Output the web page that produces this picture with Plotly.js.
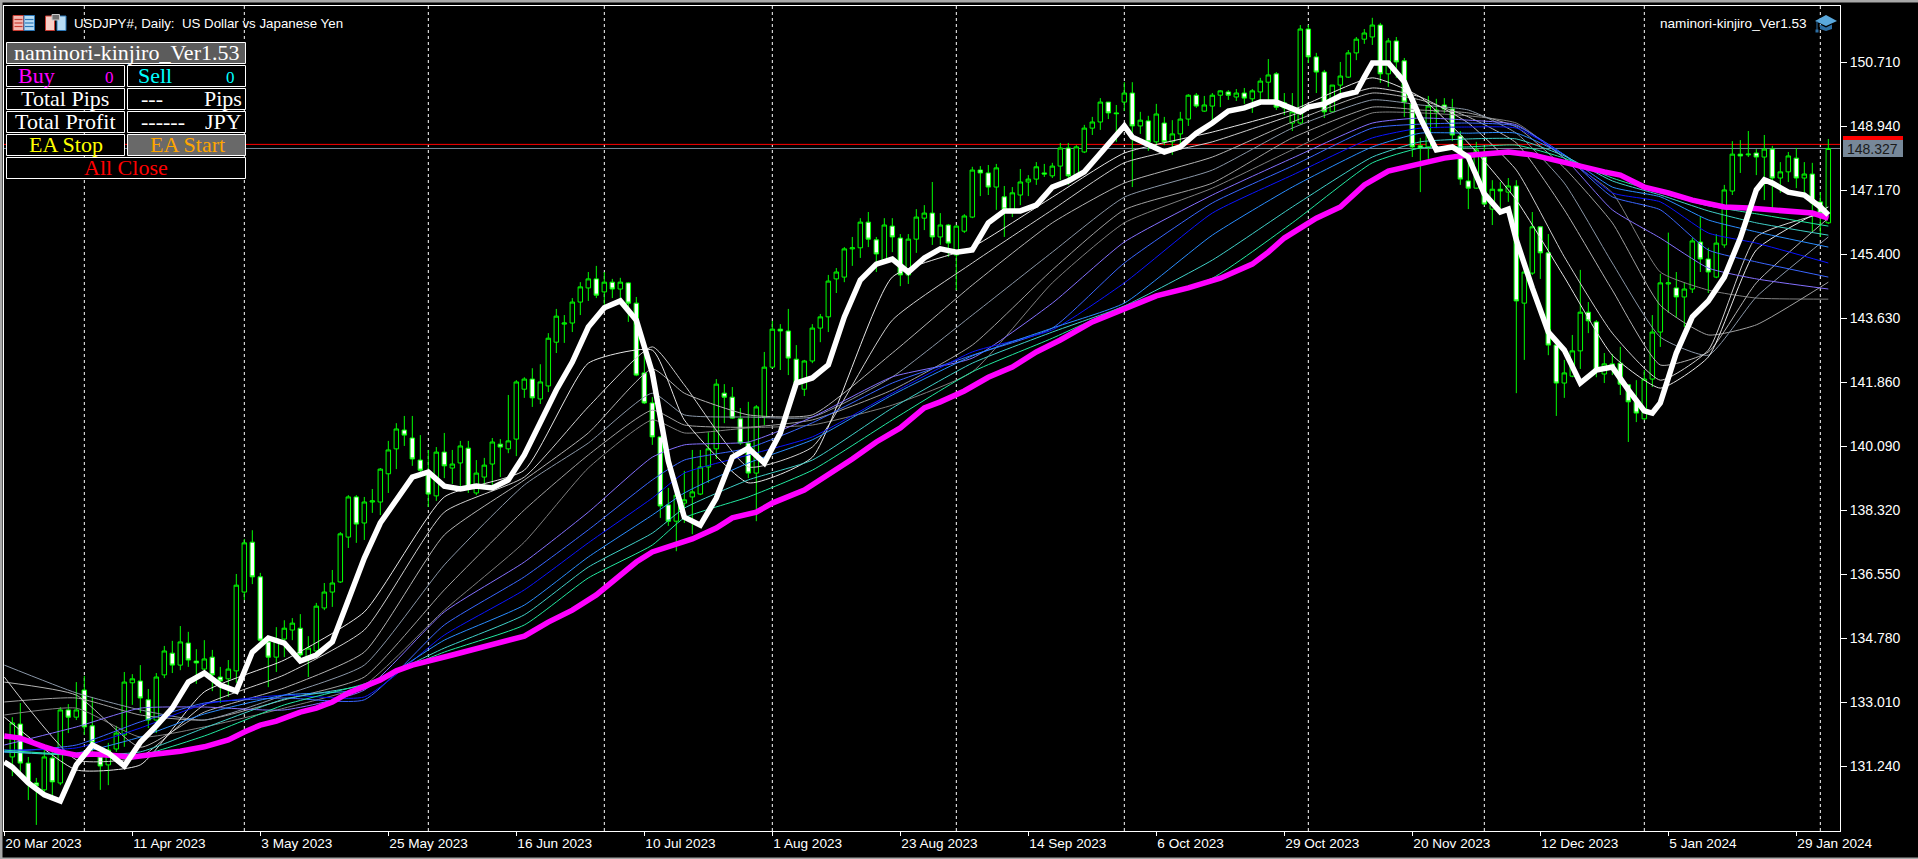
<!DOCTYPE html>
<html><head><meta charset="utf-8">
<script src="https://cdn.plot.ly/plotly-3.0.1.min.js"></script>
<style>html,body{margin:0;padding:0;background:#000;overflow:hidden}#c{width:1918px;height:859px}</style>
</head><body><div id="c"></div>
<script>
// Candles (daily USDJPY#), bar 0..227
const opens=[131.50,132.41,131.33,130.78,130.59,131.47,130.78,132.80,132.60,133.35,
132.36,131.50,131.28,131.72,132.11,133.55,133.60,133.08,132.52,133.77,
134.37,134.04,134.65,134.15,133.93,134.26,133.71,133.66,133.88,136.06,
137.44,136.48,134.68,134.26,134.76,135.01,135.06,134.26,134.43,135.62,
136.06,136.34,137.58,138.69,137.97,138.55,138.55,139.33,140.02,140.54,
140.32,139.71,139.38,138.72,139.93,139.49,139.63,140.04,138.80,139.24,
139.60,140.15,140.02,140.29,141.67,141.95,141.40,141.76,142.97,143.47,
143.50,144.08,144.47,144.72,144.36,144.63,144.44,144.61,144.05,142.12,
141.29,140.35,138.47,138.02,138.52,138.69,138.77,139.52,140.02,141.56,
141.45,140.85,140.18,139.35,140.90,142.28,143.33,143.28,142.50,141.67,
142.45,143.36,143.67,144.72,144.77,145.55,145.58,146.29,145.80,145.24,
146.18,145.85,144.83,145.82,146.40,146.54,145.88,146.21,145.38,146.04,
146.43,147.73,147.65,147.26,146.99,146.63,147.04,147.40,147.48,147.65,
147.57,147.84,148.34,147.57,148.23,148.89,149.06,149.61,149.31,149.61,
149.86,148.95,149.09,148.51,149.03,148.51,148.73,149.14,149.80,149.36,
149.50,149.80,149.89,149.75,149.86,149.70,149.89,150.16,150.39,149.45,
149.03,149.03,151.63,150.86,150.44,149.34,150.08,150.30,150.97,151.35,
151.41,151.74,150.39,151.30,150.75,149.56,148.40,148.37,149.34,149.53,
149.42,148.67,147.43,147.23,148.09,146.65,147.20,147.12,147.29,144.05,
144.88,146.16,145.44,142.89,141.84,142.03,142.73,143.80,143.53,142.09,
142.28,142.39,141.79,141.32,140.85,141.95,143.25,144.58,144.47,144.22,
144.44,145.74,145.27,144.77,145.66,147.15,148.17,148.15,148.20,148.09,
148.31,147.51,147.68,148.06,147.51,147.62,146.85,146.27];
const highs=[132.60,132.99,131.50,130.92,131.69,131.64,132.88,132.96,133.57,133.74,
133.16,131.55,131.89,132.36,133.85,133.79,134.04,133.38,133.82,134.57,
134.71,135.12,134.96,134.48,134.73,134.46,133.99,134.18,136.56,137.53,
137.77,136.59,134.73,135.09,135.28,135.34,135.45,134.84,135.76,136.31,
136.67,137.72,138.74,138.74,138.69,138.91,139.49,140.24,140.73,140.93,
140.93,140.40,139.99,140.07,140.46,139.99,140.24,140.24,139.71,139.77,
140.32,140.29,141.51,141.92,142.00,142.25,142.36,143.22,143.89,143.72,
144.19,144.63,144.91,145.08,144.91,144.72,144.75,144.63,144.22,142.75,
141.45,140.37,138.94,138.94,139.41,139.99,139.99,140.48,141.95,141.81,
141.73,141.15,141.32,141.23,142.70,143.56,143.47,143.89,142.89,142.48,
143.47,143.75,144.83,145.02,145.60,145.88,146.40,146.57,145.88,146.40,
146.40,145.96,145.96,146.65,146.76,147.40,146.54,146.24,146.21,146.51,
147.82,147.84,147.87,147.90,147.29,147.26,147.76,147.59,147.95,147.90,
147.93,148.48,148.48,148.42,148.98,149.20,149.72,149.61,149.53,150.16,
150.16,149.34,149.23,149.56,149.20,149.11,149.34,149.83,149.86,149.78,
149.86,149.94,149.94,149.97,150.00,149.97,150.28,150.80,150.44,149.86,
149.86,151.74,151.74,150.97,150.50,150.08,150.72,151.05,151.41,151.63,
151.94,151.80,151.38,151.41,150.83,149.58,148.62,149.78,149.70,149.72,
149.70,148.81,147.93,148.51,148.37,147.45,147.40,147.51,147.45,145.22,
146.57,146.16,145.96,142.92,142.48,143.17,144.97,144.08,143.58,142.67,
142.64,142.84,141.79,141.92,142.20,143.72,144.86,146.00,144.91,144.61,
145.85,146.43,145.58,145.96,147.32,148.53,148.56,148.81,148.31,148.70,
148.40,147.95,148.23,148.34,147.95,147.93,147.12,148.59];
const lows=[130.97,130.95,130.31,129.62,130.45,130.39,130.72,132.16,132.52,132.11,
131.50,130.59,130.72,131.64,131.78,132.94,132.72,132.30,132.16,133.68,
133.82,133.90,133.99,133.52,133.82,133.32,132.99,133.16,133.55,135.84,
136.28,134.65,133.43,133.85,134.26,134.73,134.24,133.71,134.40,135.56,
135.65,136.31,137.28,137.42,137.50,138.25,138.19,138.80,139.46,140.10,
139.55,139.24,138.41,138.58,139.21,139.05,138.96,138.80,138.74,138.99,
139.02,139.24,139.90,139.82,141.43,141.18,141.26,141.59,142.67,142.95,
143.25,143.72,144.11,144.19,144.00,144.19,144.16,143.53,142.03,141.26,
140.13,138.11,137.89,137.19,137.97,137.66,138.74,139.08,139.74,140.73,
140.85,140.13,139.21,138.02,140.68,142.25,142.20,142.06,141.79,141.48,
142.39,142.97,143.25,144.33,144.63,145.08,145.30,145.60,144.91,145.19,
145.46,144.52,144.58,145.44,146.07,145.66,145.66,145.33,144.41,145.99,
146.40,147.01,147.04,146.63,145.88,146.43,146.76,147.01,147.32,147.54,
147.51,147.45,147.32,147.54,148.20,148.70,148.84,149.14,148.51,149.36,
147.26,148.73,148.26,148.37,148.42,148.15,148.42,148.95,149.45,149.34,
148.98,149.47,149.67,149.64,149.56,149.31,149.67,149.67,149.39,149.25,
148.81,149.00,150.69,149.86,149.17,149.31,149.75,150.28,150.77,151.22,
151.19,150.14,150.03,150.28,149.20,148.09,147.12,148.04,148.89,149.31,
148.53,147.32,146.65,147.21,146.76,146.21,146.68,146.85,141.56,142.48,
144.83,144.72,142.61,140.93,141.43,142.00,142.23,143.22,142.00,141.84,
142.06,141.51,140.21,140.76,140.82,141.73,142.84,143.78,143.64,143.39,
144.33,144.91,144.33,144.74,145.58,147.04,147.65,148.09,147.59,146.90,
146.68,147.10,147.40,147.23,146.98,146.02,145.88,146.24];
const closes=[132.44,131.33,130.78,130.70,131.50,130.81,132.80,132.60,132.80,132.33,
131.89,131.25,131.69,132.16,133.57,133.66,133.13,132.52,133.71,134.43,
134.04,134.68,134.18,134.10,134.21,133.77,133.60,133.93,136.25,137.42,
136.48,134.73,134.26,134.76,135.06,135.20,134.32,134.51,135.67,136.06,
136.31,137.67,138.69,137.94,138.55,138.58,139.46,139.99,140.57,140.40,
139.74,139.43,138.77,139.93,139.55,139.60,140.10,138.96,139.35,139.57,
140.21,140.07,140.24,141.87,141.95,141.43,141.87,143.08,143.69,143.50,
144.08,144.50,144.72,144.27,144.63,144.44,144.63,144.05,142.06,141.29,
140.35,138.44,138.02,138.74,138.61,138.83,139.52,140.02,141.81,141.45,
140.87,140.18,139.35,141.18,142.28,143.33,143.28,142.53,141.84,142.45,
143.36,143.67,144.66,144.91,145.55,145.58,146.29,145.82,145.41,146.21,
145.88,144.83,145.82,146.43,146.54,145.88,146.21,145.71,146.18,146.46,
147.73,147.65,147.26,147.79,146.65,147.10,147.40,147.48,147.82,147.62,
147.84,148.34,147.57,148.37,148.89,149.06,149.61,149.31,149.29,149.86,
148.95,149.11,148.51,149.28,148.51,148.73,149.14,149.80,149.50,149.53,
149.80,149.92,149.80,149.86,149.72,149.92,150.19,150.36,149.47,149.59,
149.34,151.63,150.86,150.44,149.34,150.08,150.33,150.97,151.35,151.52,
151.74,150.39,151.30,150.72,149.61,148.37,148.34,149.50,149.39,149.42,
148.70,147.48,147.23,148.29,146.79,147.20,147.15,147.29,144.11,144.91,
146.16,145.44,142.89,141.84,142.12,142.73,143.80,143.56,142.20,142.37,
142.37,141.81,141.32,141.01,141.95,143.25,144.61,144.61,144.22,144.44,
145.77,145.27,144.91,145.71,147.18,148.17,148.12,148.17,148.09,148.31,
147.51,147.68,148.12,147.51,147.62,146.82,146.54,148.327];

// Moving averages
const fastBars=[-1,0,2,4,6,8,10,12,14,16,18,20,22,24,26,28,30,32,34,36,38,40,42,44,46,48,50,52,54,56,58,60,62,64,66,68,70,72,74,76,78,80,82,84,86,88,90,92,94,96,98,100,102,104,106,108,110,112,114,116,118,120,122,124,126,128,130,132,134,136,138,139,140,142,144,146,148,150,152,154,156,158,160,161,162,164,166,168,169,170,172,174,176,178,180,182,184,186,187,188,190,192,194,196,198,200,202,204,205,206,208,210,212,214,216,218,219,220,222,224,226,227];
const fastMA=[131.36,131.22,130.78,130.45,130.28,131.28,131.83,131.61,131.25,131.91,132.36,132.85,133.57,133.82,133.49,133.32,134.40,134.79,134.65,134.15,134.32,134.68,135.84,137.00,137.97,138.61,139.24,139.38,138.99,138.91,138.99,138.94,139.16,139.85,140.73,141.65,142.42,143.39,143.92,144.11,143.58,142.12,139.68,138.13,137.91,138.66,139.79,140.04,139.63,140.46,141.84,141.98,142.34,143.67,144.69,145.13,145.27,144.91,145.30,145.55,145.46,145.52,146.27,146.60,146.60,146.76,147.26,147.43,147.68,148.20,148.70,148.95,148.64,148.45,148.23,148.37,148.75,149.03,149.36,149.45,149.61,149.61,149.45,149.34,149.47,149.56,149.78,149.89,150.30,150.69,150.69,150.17,149.17,148.29,148.37,148.09,147.07,146.57,146.65,145.80,144.47,143.25,142.75,141.84,142.20,142.28,141.65,141.07,141.01,141.29,142.67,143.67,144.11,144.77,145.85,147.18,147.46,147.37,147.12,147.04,146.71,146.49];
const slowBars=[-1,1,4,6,8,10,13,15,18,21,24,27,29,31,33,36,38,40,42,44,46,48,50,55,60,64,67,70,73,76,78,80,82,85,88,90,93,95,99,101,105,108,111,114,116,119,122,125,128,131,135,138,143,147,151,155,157,159,163,166,169,172,176,179,181,184,187,190,193,196,199,201,204,207,210,214,217,220,223,225,227];
const slowMA=[132.08,132.02,131.78,131.64,131.55,131.58,131.53,131.50,131.58,131.66,131.78,131.97,132.19,132.38,132.49,132.74,132.85,133.02,133.27,133.43,133.63,133.88,134.04,134.32,134.59,134.84,135.23,135.56,135.98,136.53,136.89,137.17,137.30,137.53,137.83,138.11,138.27,138.52,138.88,139.16,139.74,140.21,140.60,141.15,141.32,141.62,142.00,142.28,142.70,143.03,143.53,143.80,144.25,144.47,144.74,145.13,145.46,145.85,146.40,146.71,147.32,147.70,147.92,148.06,148.12,148.17,148.23,148.15,148.01,147.84,147.68,147.59,147.26,147.10,146.90,146.71,146.68,146.63,146.57,146.54,146.40];
const fanBars=[-1,8,16,24,34,44,54,64,72,80,84,92,100,110,120,130,139,150,160,170,176,182,188,194,200,206,212,218,227];
const grey1=[132.60,131.14,131.28,133.30,134.18,135.51,138.69,139.43,142.39,142.75,140.82,139.08,139.79,144.77,145.60,146.98,148.20,148.78,149.39,150.28,149.75,148.48,146.90,144.77,142.61,141.70,142.56,145.52,146.71];
const grey2=[133.71,131.42,131.50,132.94,133.77,135.01,138.27,139.24,141.18,142.84,141.79,139.52,140.07,143.58,145.16,146.63,147.93,148.51,149.25,150.00,149.75,149.03,147.73,145.33,143.22,141.92,142.75,145.88,146.57];
const grey3=[133.57,133.21,131.77,132.74,133.41,134.40,137.64,139.16,140.46,142.23,141.56,140.96,140.96,142.67,144.55,146.27,147.37,148.09,149.06,149.86,149.67,149.20,148.48,146.63,144.41,142.34,142.70,144.61,146.40];
const grey4=[134.04,133.27,132.80,132.52,133.21,134.04,136.81,139.02,140.18,141.56,140.96,140.90,140.90,142.01,143.72,145.46,146.98,147.73,148.89,149.67,149.53,149.39,148.75,147.37,145.16,143.11,142.61,144.22,145.88];
const grey5=[133.02,133.13,132.66,132.52,133.08,133.71,136.12,138.33,139.85,141.09,140.68,140.62,140.82,141.65,142.89,144.97,146.63,147.37,148.62,149.47,149.39,149.31,148.92,147.79,146.27,143.99,143.17,143.45,144.63];
const grey6=[132.66,132.85,132.05,132.33,132.85,133.49,135.56,137.44,139.49,140.82,140.46,140.60,140.68,141.23,142.15,144.61,146.27,147.23,148.29,149.31,149.31,149.23,149.03,148.06,147.10,144.91,144.41,144.19,144.16];
const purple=[131.83,132.33,132.85,132.88,132.80,133.35,135.51,136.89,138.27,139.79,140.13,140.21,140.90,142.01,142.53,144.05,145.74,147.04,148.06,149.03,149.17,149.11,148.98,148.06,146.63,145.85,145.02,144.72,144.44];
const royal=[131.64,131.83,132.47,132.99,133.13,133.08,135.15,136.48,137.78,139.16,139.71,140.04,140.74,141.84,142.61,143.36,145.16,146.82,147.84,148.89,149.00,149.03,148.95,148.15,146.99,146.63,145.52,145.19,144.77];
const deep=[131.69,131.75,132.30,132.96,133.21,133.16,134.87,136.12,137.42,138.66,139.35,139.85,140.35,141.56,142.70,143.31,144.61,146.54,147.59,148.62,148.89,148.92,148.89,148.15,147.10,146.85,145.99,145.71,145.16];
const dodger=[131.64,131.61,132.05,132.69,133.21,133.38,134.73,135.70,137.03,138.19,138.80,139.63,140.27,141.51,142.59,143.36,144.05,145.93,147.26,148.37,148.75,148.75,148.75,148.15,147.26,146.99,146.35,146.02,145.60];
const teal=[131.64,131.55,131.64,132.30,133.10,133.49,134.51,135.43,136.75,137.69,138.38,139.16,139.71,141.15,142.39,143.25,143.97,145.24,146.71,148.09,148.51,148.59,148.59,148.12,147.43,147.04,146.60,146.27,145.93];
const spring=[131.69,131.55,131.55,132.08,132.94,133.52,134.40,135.15,136.45,137.36,138.11,138.69,139.43,140.82,142.15,143.08,143.97,144.74,146.27,147.93,148.34,148.37,148.42,148.06,147.51,147.10,146.74,146.52,146.18];

const yTicks=[150.71,148.94,147.17,145.40,143.63,141.86,140.09,138.32,136.55,134.78,133.01,131.24];
const xTickBars=[-1,15,31,47,63,79,95,111,127,143,159,175,191,207,223];
const xTickText=['20 Mar 2023','11 Apr 2023','3 May 2023','25 May 2023','16 Jun 2023','10 Jul 2023','1 Aug 2023','23 Aug 2023','14 Sep 2023','6 Oct 2023','29 Oct 2023','20 Nov 2023','12 Dec 2023','5 Jan 2024','29 Jan 2024'];
const monthBars=[9,29,52,74,95,118,139,162,184,204,226];
const bidPrice=148.327, askPrice=148.44;

const barIdx=opens.map((_,i)=>i);
const L=4,R=1840,T=6,B=831;
const px=x=>(x-L)/(R-L), py=y=>1-(y-T)/(B-T);
const SERIF='"Liberation Serif",serif', SANS='"Liberation Sans",Arial,sans-serif';
const GREEN='#00ff00';

const thin=(x,y,c)=>({type:'scatter',mode:'lines',x,y,line:{color:c,width:1,shape:'spline',smoothing:0.5},hoverinfo:'skip',showlegend:false});
const data=[
 {type:'candlestick',x:barIdx,open:opens,high:highs,low:lows,close:closes,
  increasing:{line:{color:GREEN,width:1},fillcolor:'#000000'},
  decreasing:{line:{color:GREEN,width:1},fillcolor:'#ffffff'},
  whiskerwidth:0,hoverinfo:'skip',showlegend:false},
 thin(fanBars,grey6,'#808080'),thin(fanBars,grey5,'#a0a0a0'),thin(fanBars,grey4,'#8a97a8'),
 thin(fanBars,grey3,'#b4b4b4'),thin(fanBars,grey2,'#cfcfcf'),thin(fanBars,grey1,'#e6e6e6'),
 thin(fanBars,purple,'#8470ff'),thin(fanBars,royal,'#3a66ff'),thin(fanBars,deep,'#0a14ff'),
 thin(fanBars,dodger,'#2a8cff'),thin(fanBars,teal,'#40d0c8'),thin(fanBars,spring,'#22e8a0'),
 {type:'scatter',mode:'lines',x:slowBars,y:slowMA,line:{color:'#ff00ff',width:5.5},hoverinfo:'skip',showlegend:false},
 {type:'scatter',mode:'lines',x:fastBars,y:fastMA,line:{color:'#ffffff',width:5.5},hoverinfo:'skip',showlegend:false}
];

const shapes=[], annotations=[];
monthBars.forEach(b=>shapes.push({type:'line',xref:'x',yref:'paper',x0:b,x1:b,y0:0,y1:1,layer:'below',line:{color:'#ffffff',width:1,dash:'3px,3px'}}));
shapes.push({type:'line',xref:'paper',yref:'y',x0:0,x1:1,y0:askPrice,y1:askPrice,layer:'below',line:{color:'#ff0000',width:1}});
shapes.push({type:'line',xref:'paper',yref:'y',x0:0,x1:1,y0:bidPrice,y1:bidPrice,layer:'below',line:{color:'#778899',width:1}});
const rect=(x0,y0,x1,y1,fill,line,lw)=>shapes.push({type:'rect',xref:'paper',yref:'paper',x0:px(x0),x1:px(x1),y0:py(y0),y1:py(y1),fillcolor:fill,line:{color:line||fill,width:lw===undefined?(line?1:0):lw},layer:'above'});
const poly=(pts,fill)=>shapes.push({type:'path',xref:'paper',yref:'paper',path:'M'+pts.map(p=>px(p[0])+','+py(p[1])).join('L')+'Z',fillcolor:fill,line:{width:0},layer:'above'});
const label=(x,y,text,color,size,font,anchor)=>annotations.push({xref:'paper',yref:'paper',x:px(x),y:py(y),text,showarrow:false,xanchor:anchor||'center',yanchor:'middle',font:{family:font||SERIF,size:size||22,color:color||'#ffffff'},borderpad:0});

// window frame
rect(0,0,1918,2.5,'#a8a8a8');rect(0,0,2.5,859,'#a8a8a8');rect(0,857.5,1918,859,'#a8a8a8');

// info panel
rect(6.5,42.5,245.5,63.5,'#5c5c5c','#ffffff');
rect(6.5,65.5,124.5,86.5,'#000000','#ffffff');rect(127.5,65.5,245.5,86.5,'#000000','#ffffff');
rect(6.5,88.5,124.5,109.5,'#000000','#ffffff');rect(127.5,88.5,245.5,109.5,'#000000','#ffffff');
rect(6.5,111.5,124.5,132.5,'#000000','#ffffff');rect(127.5,111.5,245.5,132.5,'#000000','#ffffff');
rect(6.5,134.5,124.5,155.5,'#000000','#ffffff');rect(127.5,134.5,245.5,155.5,'#696969','#ffffff');
rect(6.5,157.5,245.5,178.5,'#000000','#ffffff');
label(126,52.5,'naminori-kinjiro_Ver1.53','#ffffff',22);
label(16.5,75.5,'Buy','#ff00ff',22,SERIF,'left');label(109,77,'0','#ff00ff',17);
label(137,75.5,'Sell','#00ffff',22,SERIF,'left');label(230,77,'0','#00ffff',17);
label(65,98.5,'Total Pips','#ffffff',22);label(152,98.5,'---','#ffffff',22);label(243,98.5,'Pips','#ffffff',22,SERIF,'right');
label(65,121.5,'Total Profit','#ffffff',22);label(163,121.5,'------','#ffffff',22);label(243,121.5,'JPY','#ffffff',22,SERIF,'right');
label(65.5,144.5,'EA Stop','#ffff00',22);label(187,144.5,'EA Start','#ffa500',22);
label(126,167.5,'All Close','#ff0000',22);

// header text and icons
label(72.5,23,'USDJPY#, Daily:  US Dollar vs Japanese Yen','#ffffff',13.3,SANS,'left');
label(1659,23,'naminori-kinjiro_Ver1.53','#ffffff',13.6,SANS,'left');
rect(13,15.5,23.5,30.5,'#f4b8b0','#c83c32',1);rect(24,15.5,34.5,30.5,'#b8dcf4','#2c78b8',1);
[19.5,23,26.5].forEach(y=>{rect(14.5,y-0.6,22.5,y+0.6,'#c83c32');rect(25,y-0.6,33.5,y+0.6,'#2c78b8');});
rect(45.5,16,54.5,30.5,'#f8d0c8','#c83c32',1);rect(57,16,66,30.5,'#b8dcf4','#2c78b8',1);rect(52,14.5,59.5,20,'#707070','#c8c8c8',1);
poly([[1826,15],[1837,21],[1826,26],[1815,21]],'#5aa8dc');
poly([[1820,24.5],[1826,27.5],[1832,24.5],[1832,29],[1826,31],[1820,29]],'#2c6ea4');
rect(1816.5,21,1817.5,30,'#2c6ea4');rect(1815.5,29.5,1818.5,32.5,'#2c6ea4');

// price tag
rect(1843,136,1903,140,'#ff0000');
rect(1843,140,1903,157,'#778899');
label(1873,148.5,bidPrice.toFixed(3),'#1a1a1a',14,SANS);

const layout={
 width:1918,height:859,margin:{l:L,r:1918-R,t:T,b:859-B,pad:0},
 paper_bgcolor:'#000000',plot_bgcolor:'#000000',showlegend:false,dragmode:false,boxgap:0.2,
 xaxis:{type:'linear',range:[-1.04,228.46],rangeslider:{visible:false},tickmode:'array',tickvals:xTickBars,ticktext:xTickText,
  ticks:'outside',ticklen:4,tickcolor:'#ffffff',tickwidth:1,ticklabelposition:'outside right',
  tickfont:{family:SANS,size:13.6,color:'#ffffff'},showgrid:false,zeroline:false,showline:true,linecolor:'#ffffff',linewidth:1,mirror:true},
 yaxis:{side:'right',range:[129.452,152.267],tickmode:'array',tickvals:yTicks,ticktext:yTicks.map(v=>v.toFixed(3)),
  ticks:'outside',ticklen:6,tickcolor:'#ffffff',tickwidth:1,tickfont:{family:SANS,size:14,color:'#ffffff'},
  showgrid:false,zeroline:false,showline:true,linecolor:'#ffffff',linewidth:1,mirror:true},
 shapes,annotations
};
Plotly.newPlot('c',data,layout,{staticPlot:true,displayModeBar:false,responsive:false});
</script></body></html>
